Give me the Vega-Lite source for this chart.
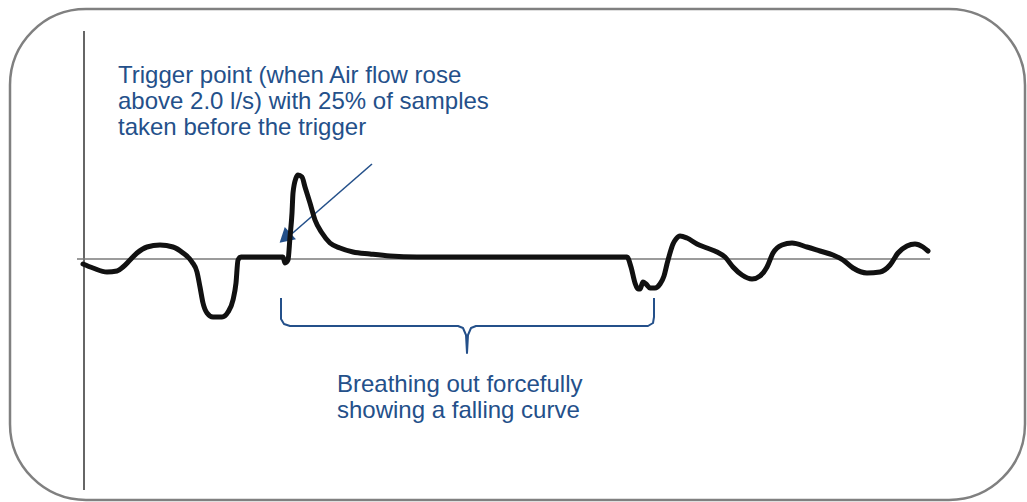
{
  "$schema": "https://vega.github.io/schema/vega-lite/v6.json",
  "autosize": {"type": "fit", "contains": "padding"},
  "width": 1027,
  "height": 502,
  "padding": 0,
  "background": "white",
  "config": {"view": {"stroke": null}},
  "datasets": {
    "frame": [{"x1": 10, "x2": 1025, "y1": 250, "y2": -241}],
    "axes": [
      {"kind": "v", "x1": 84, "x2": 84, "y1": 228, "y2": -231},
      {"kind": "h", "x1": 77, "x2": 930, "y1": 0, "y2": 0}
    ],
    "curve": [
      {"t": 83, "flow": -5}, {"t": 93, "flow": -9}, {"t": 107, "flow": -13}, {"t": 117, "flow": -12},
      {"t": 123, "flow": -8}, {"t": 130, "flow": -1}, {"t": 137, "flow": 6}, {"t": 147, "flow": 12},
      {"t": 160, "flow": 14}, {"t": 173, "flow": 12}, {"t": 183, "flow": 6}, {"t": 192, "flow": -3},
      {"t": 197, "flow": -13}, {"t": 200, "flow": -28}, {"t": 203, "flow": -44}, {"t": 207, "flow": -54},
      {"t": 213, "flow": -58}, {"t": 222, "flow": -58}, {"t": 228, "flow": -53}, {"t": 233, "flow": -41},
      {"t": 236, "flow": -24}, {"t": 238, "flow": -1}, {"t": 241, "flow": 2}, {"t": 283, "flow": 2},
      {"t": 285, "flow": -4}, {"t": 288, "flow": -1}, {"t": 290, "flow": 22}, {"t": 292, "flow": 46},
      {"t": 293, "flow": 66}, {"t": 296, "flow": 81}, {"t": 298, "flow": 84}, {"t": 302, "flow": 82},
      {"t": 305, "flow": 72}, {"t": 310, "flow": 56}, {"t": 315, "flow": 39}, {"t": 322, "flow": 26},
      {"t": 330, "flow": 16}, {"t": 340, "flow": 11}, {"t": 353, "flow": 7}, {"t": 370, "flow": 5},
      {"t": 390, "flow": 3}, {"t": 417, "flow": 2}, {"t": 627, "flow": 2}, {"t": 631, "flow": -8},
      {"t": 635, "flow": -24}, {"t": 638, "flow": -30}, {"t": 640, "flow": -30}, {"t": 643, "flow": -23},
      {"t": 646, "flow": -25}, {"t": 650, "flow": -29}, {"t": 655, "flow": -29}, {"t": 660, "flow": -25},
      {"t": 664, "flow": -17}, {"t": 667, "flow": -5}, {"t": 670, "flow": 6}, {"t": 673, "flow": 15},
      {"t": 676, "flow": 20}, {"t": 680, "flow": 23}, {"t": 687, "flow": 21}, {"t": 697, "flow": 15},
      {"t": 707, "flow": 11}, {"t": 717, "flow": 7}, {"t": 725, "flow": 2}, {"t": 733, "flow": -8},
      {"t": 742, "flow": -16}, {"t": 752, "flow": -20}, {"t": 760, "flow": -17}, {"t": 767, "flow": -8},
      {"t": 773, "flow": 6}, {"t": 782, "flow": 14}, {"t": 792, "flow": 16}, {"t": 807, "flow": 12},
      {"t": 820, "flow": 8}, {"t": 833, "flow": 4}, {"t": 843, "flow": -1}, {"t": 853, "flow": -9},
      {"t": 867, "flow": -14}, {"t": 880, "flow": -13}, {"t": 890, "flow": -6}, {"t": 898, "flow": 6},
      {"t": 907, "flow": 13}, {"t": 915, "flow": 15}, {"t": 923, "flow": 12}, {"t": 928, "flow": 8}
    ],
    "bracket": [
      {"i": 1, "t": 281, "flow": -39}, {"i": 2, "t": 281, "flow": -60}, {"i": 3, "t": 284, "flow": -65},
      {"i": 4, "t": 290, "flow": -67}, {"i": 5, "t": 458, "flow": -67}, {"i": 6, "t": 463, "flow": -69},
      {"i": 7, "t": 466, "flow": -76}, {"i": 8, "t": 467, "flow": -94}, {"i": 9, "t": 468, "flow": -76},
      {"i": 10, "t": 471, "flow": -69}, {"i": 11, "t": 476, "flow": -67}, {"i": 12, "t": 648, "flow": -67},
      {"i": 13, "t": 653, "flow": -64}, {"i": 14, "t": 654, "flow": -58}, {"i": 15, "t": 654, "flow": -39}
    ],
    "arrow": [
      {"i": 1, "t": 372, "flow": 95}, {"i": 2, "t": 287, "flow": 21}
    ],
    "arrowhead": [{"t": 285, "flow": 21}],
    "labels": [
      {"t": 118, "flow": 176, "text": "Trigger point (when Air flow rose\nabove 2.0 l/s) with 25% of samples\ntaken before the trigger"},
      {"t": 337, "flow": -133, "text": "Breathing out forcefully\nshowing a falling curve"}
    ]
  },
  "layer": [
    {
      "data": {"name": "frame"},
      "mark": {"type": "rect", "fillOpacity": 0, "stroke": "#808080", "strokeWidth": 2.5, "cornerRadius": 76},
      "encoding": {
        "x": {"field": "x1", "type": "quantitative", "scale": {"domain": [0, 1027], "nice": false, "zero": false}, "axis": null},
        "x2": {"field": "x2"},
        "y": {"field": "y1", "type": "quantitative", "scale": {"domain": [-243, 259], "nice": false, "zero": false}, "axis": null},
        "y2": {"field": "y2"}
      }
    },
    {
      "data": {"name": "axes"},
      "mark": {"type": "rule", "strokeWidth": 1.5},
      "encoding": {
        "x": {"field": "x1", "type": "quantitative"},
        "x2": {"field": "x2"},
        "y": {"field": "y1", "type": "quantitative"},
        "y2": {"field": "y2"},
        "color": {"field": "kind", "type": "nominal", "scale": {"domain": ["v", "h"], "range": ["#333333", "#7a7a7a"]}, "legend": null}
      }
    },
    {
      "data": {"name": "arrow"},
      "mark": {"type": "line", "color": "#24508a", "strokeWidth": 1.6},
      "encoding": {
        "x": {"field": "t", "type": "quantitative"},
        "y": {"field": "flow", "type": "quantitative"},
        "order": {"field": "i", "type": "quantitative"}
      }
    },
    {
      "data": {"name": "arrowhead"},
      "mark": {"type": "point", "shape": "triangle-up", "filled": true, "color": "#24508a", "opacity": 1, "size": 280, "angle": 228},
      "encoding": {
        "x": {"field": "t", "type": "quantitative"},
        "y": {"field": "flow", "type": "quantitative"}
      }
    },
    {
      "data": {"name": "curve"},
      "mark": {"type": "line", "interpolate": "monotone", "color": "#111111", "strokeWidth": 5, "strokeCap": "round", "strokeJoin": "round"},
      "encoding": {
        "x": {"field": "t", "type": "quantitative"},
        "y": {"field": "flow", "type": "quantitative"}
      }
    },
    {
      "data": {"name": "bracket"},
      "mark": {"type": "line", "interpolate": "linear", "color": "#24508a", "strokeWidth": 2, "strokeJoin": "round"},
      "encoding": {
        "x": {"field": "t", "type": "quantitative"},
        "y": {"field": "flow", "type": "quantitative"},
        "order": {"field": "i", "type": "quantitative"}
      }
    },
    {
      "data": {"name": "labels"},
      "mark": {"type": "text", "align": "left", "baseline": "alphabetic", "font": "Liberation Sans", "fontSize": 24, "lineHeight": 26, "lineBreak": "\n", "color": "#24508a"},
      "encoding": {
        "x": {"field": "t", "type": "quantitative"},
        "y": {"field": "flow", "type": "quantitative"},
        "text": {"field": "text", "type": "nominal"}
      }
    }
  ]
}
